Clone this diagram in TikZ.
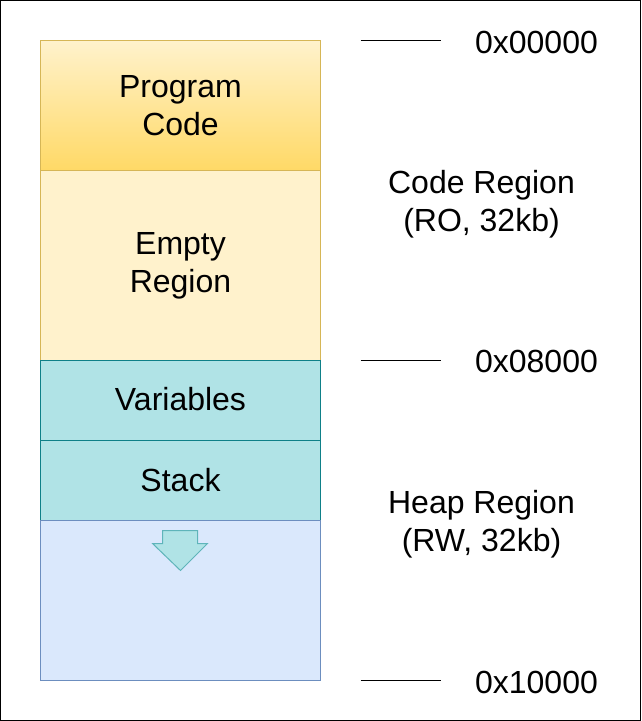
\documentclass[tikz,border=0pt]{standalone}
\usepackage{fontspec}
\setmainfont{Liberation Sans}
\setsansfont{Liberation Sans}
\usetikzlibrary{positioning}

\definecolor{codetop}{HTML}{FFF2CC}
\definecolor{codebot}{HTML}{FFD966}
\definecolor{codeline}{HTML}{D6B656}
\definecolor{rwfill}{HTML}{B0E3E6}
\definecolor{rwline}{HTML}{0E8088}
\definecolor{heapfill}{HTML}{DAE8FC}
\definecolor{heapline}{HTML}{6C8EBF}
\definecolor{growline}{HTML}{5FB4BA}

\begin{document}
\begin{tikzpicture}[
  x=0.5pt, y=-0.5pt,
  font=\sffamily\fontsize{16}{19}\selectfont,
  node distance=0pt,
  block/.style={
    rectangle, minimum width=140pt, outer sep=0pt, inner sep=0pt,
    line width=0.5pt, align=center
  },
  codeblock/.style={block, draw=codeline, fill=codetop},
  rwblock/.style={block, draw=rwline, fill=rwfill, minimum height=40pt},
  heapblock/.style={block, draw=heapline, fill=heapfill, minimum height=80pt},
  tick/.style={line width=0.5pt, draw=black},
  addr/.style={anchor=center, inner sep=0pt},
  region/.style={align=center, inner sep=0pt},
  growarrow/.style={fill=rwfill, draw=growline, line width=0.5pt},
]

% frame
\draw[line width=0.5pt] (0,0) rectangle (640,720);

% memory blocks
\node[codeblock, anchor=north west, minimum height=65pt,
      top color=codetop, bottom color=codebot] (prog) at (40,40) {Program\\Code};
\node[codeblock, below=of prog, minimum height=95pt] (empty) {Empty\\Region};
\node[rwblock, below=of empty, text depth=2pt] (vars) {Variables};
\node[rwblock, below=of vars] (stack) {Stack};
\node[heapblock, below=of stack] (heap) {};

% stack grows down
\draw[growarrow] (162,530) -- (197,530) -- (197,543) -- (207,543)
  -- (180,570) -- (152,543) -- (162,543) -- cycle;

% address ticks
\coordinate (t0a) at (360,40);   \coordinate (t0b) at (440,40);
\coordinate (t1a) at (360,360);  \coordinate (t1b) at (440,360);
\coordinate (t2a) at (360,680);  \coordinate (t2b) at (440,680);
\draw[tick] (t0a) -- (t0b);
\draw[tick] (t1a) -- (t1b);
\draw[tick] (t2a) -- (t2b);

\node[addr] (a0) at (536,42) {0x00000};
\node[addr] (a1) at (536,361) {0x08000};
\node[addr] (a2) at (536,682) {0x10000};

% regions
\node[region] (coderegion) at (481,204) {Code Region\\(RO, 32kb)};
\node[region] (heapregion) at (481,524) {Heap Region\\(RW, 32kb)};

\end{tikzpicture}
\end{document}
